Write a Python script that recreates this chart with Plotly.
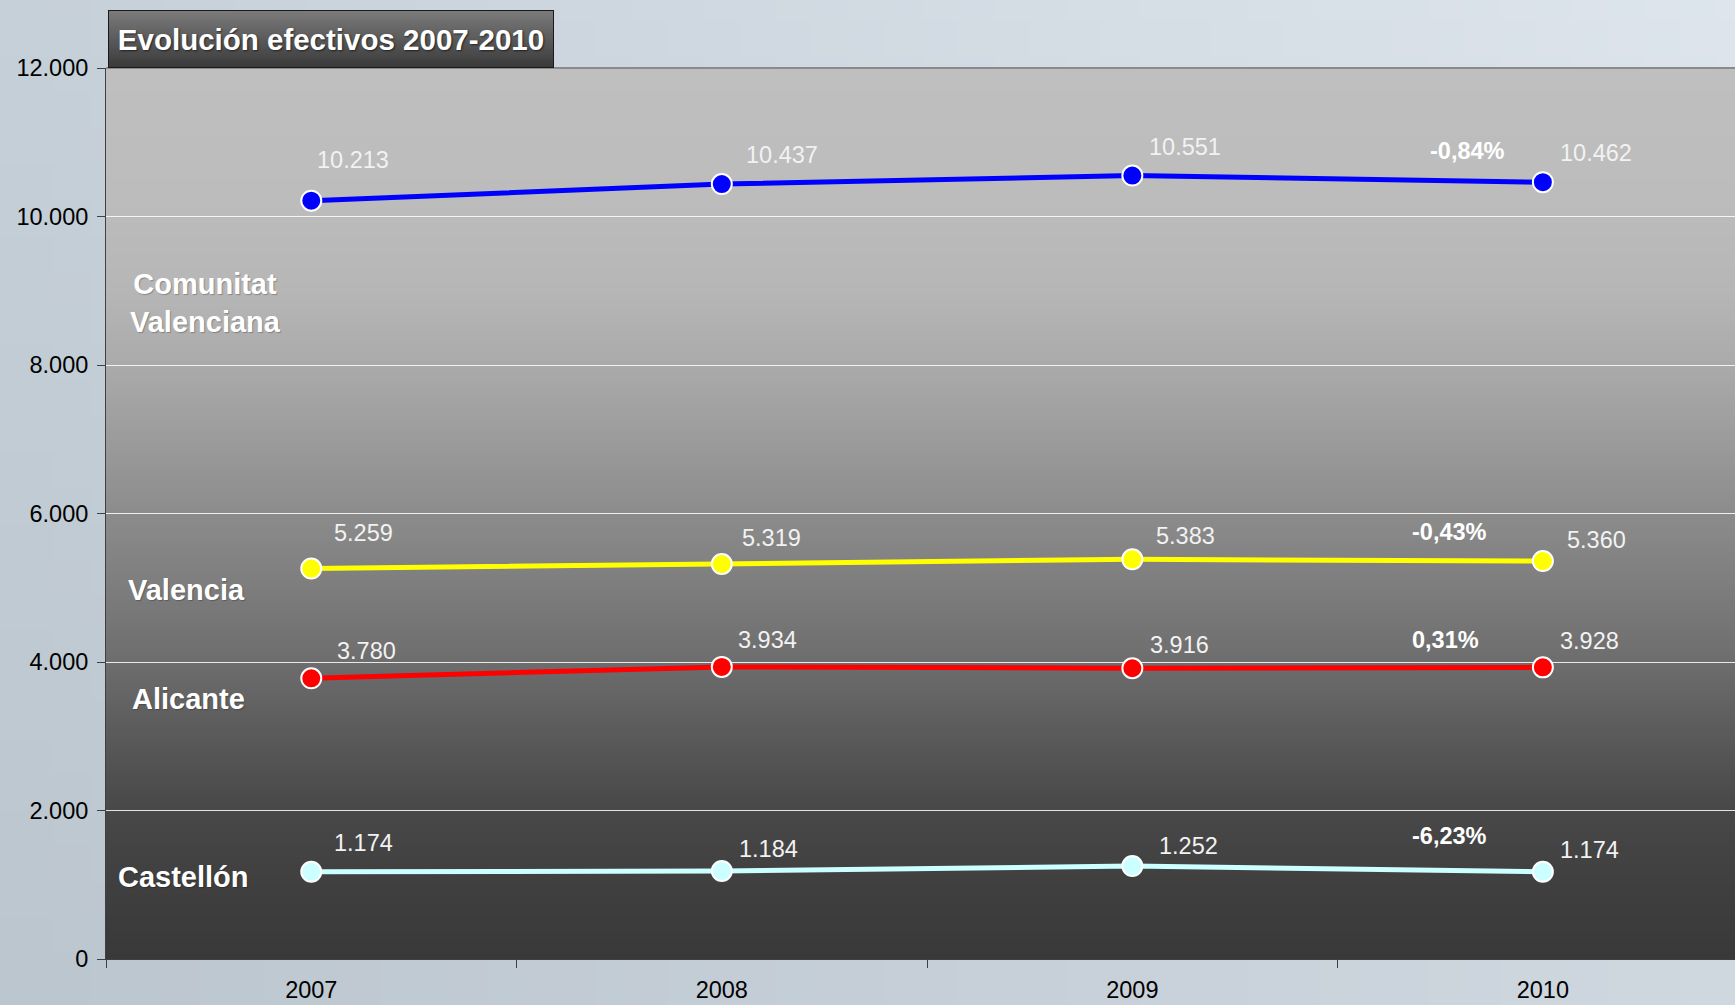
import base64
import struct
import zlib

import plotly.graph_objects as go

# ---------------- data ----------------
years = ["2007", "2008", "2009", "2010"]
series_names = ["Comunitat<br>Valenciana", "Valencia", "Alicante", "Castellón"]
comunitat = [10213, 10437, 10551, 10462]
valencia = [5259, 5319, 5383, 5360]
alicante = [3780, 3934, 3916, 3928]
castellon = [1174, 1184, 1252, 1174]
series_values = [comunitat, valencia, alicante, castellon]
series_colors = ["#0000ff", "#ffff00", "#ff0000", "#ccffff"]
title_text = "Evolución efectivos 2007-2010"
y_tick_values = [0, 2000, 4000, 6000, 8000, 10000, 12000]

# ---------------- geometry (pixels) ----------------
W, H = 1735, 1005
ML, MR, MT, MB = 106, 0, 68, 46
PW = W - ML - MR
PH = H - MT - MB
FONT = "Arial, Liberation Sans, sans-serif"

# per-label offsets (layout only): value labels (left edge dx, centre dy), px
value_label_offsets = [
    [(3, -37), (20, -26), (13, -26), (14, -26)],
    [(19, -32), (16, -24), (20, -21), (20, -19)],
    [(21, -25), (13, -24), (14, -21), (14, -24)],
    [(19, -26), (14, -20), (22, -18), (14, -20)],
]
pct_label_offsets = [(-104, -28), (-120, -26), (-120, -25), (-120, -32)]
S = 1.1065


def png_data_uri(rows):
    h = len(rows)
    w = len(rows[0])
    raw = b"".join(b"\x00" + bytes([c for px in row for c in px]) for row in rows)

    def chunk(t, d):
        return (struct.pack(">I", len(d)) + t + d
                + struct.pack(">I", zlib.crc32(t + d) & 0xFFFFFFFF))

    png = (b"\x89PNG\r\n\x1a\n"
           + chunk(b"IHDR", struct.pack(">IIBBBBB", w, h, 8, 2, 0, 0, 0))
           + chunk(b"IDAT", zlib.compress(raw, 9))
           + chunk(b"IEND", b""))
    return "data:image/png;base64," + base64.b64encode(png).decode()


def interp(stops, f):
    for (f0, c0), (f1, c1) in zip(stops[:-1], stops[1:]):
        if f0 <= f <= f1:
            t = (f - f0) / (f1 - f0) if f1 > f0 else 0
            return tuple(int(round(a + (b - a) * t)) for a, b in zip(c0, c1))
    return stops[-1][1]


# plot-area vertical gradient
plot_stops = [(0.0, (191, 191, 191)), (0.15, (188, 188, 188)), (0.25, (182, 182, 182)),
              (0.33, (171, 171, 171)), (0.42, (155, 155, 155)), (0.5, (140, 140, 140)),
              (0.58, (126, 126, 126)), (0.67, (109, 109, 109)), (0.76, (88, 88, 88)),
              (0.83, (73, 73, 73)), (0.9, (65, 65, 65)), (1.0, (57, 57, 57))]
plot_rows = [[interp(plot_stops, i / 255)] * 2 for i in range(256)]
plot_img = png_data_uri(plot_rows)

# title box gradient
title_stops = [(0.0, (124, 124, 124)), (1.0, (58, 58, 58))]
title_rows = [[interp(title_stops, i / 63)] * 2 for i in range(64)]
title_img = png_data_uri(title_rows)

# page background (soft blue-grey)
TL, TR = (198, 208, 217), (222, 229, 236)
BL, BR = (188, 198, 207), (207, 215, 223)
bg_rows = []
GW, GH = 48, 28
for j in range(GH):
    v = j / (GH - 1)
    row = []
    for i in range(GW):
        u = i / (GW - 1)
        top = [a + (b - a) * u for a, b in zip(TL, TR)]
        bot = [a + (b - a) * u for a, b in zip(BL, BR)]
        c = [t + (b - t) * v for t, b in zip(top, bot)]
        row.append(tuple(int(round(x)) for x in c))
    bg_rows.append(row)
bg_img = png_data_uri(bg_rows)

# ---------------- figure ----------------
fig = go.Figure()
for vals, col in zip(series_values, series_colors):
    fig.add_trace(go.Scatter(
        x=years, y=vals, mode="lines+markers",
        line=dict(color=col, width=5),
        marker=dict(size=20, color=col, line=dict(color="white", width=2)),
        showlegend=False, hoverinfo="x+y",
    ))

annotations = []
for s, vals in enumerate(series_values):
    # value labels (category axis -> serial index positions)
    for idx, v in enumerate(vals):
        dx, dy = value_label_offsets[s][idx]
        annotations.append(dict(
            x=idx, y=v, xref="x", yref="y", text=f"{v:,}".replace(",", "."),
            showarrow=False, xanchor="left", yanchor="middle",
            xshift=dx * S, yshift=-dy * S,
            font=dict(family=FONT, size=23.5, color="#f2f2f2"),
        ))
    # percentage change 2009 -> 2010
    pct = (vals[-1] - vals[-2]) / vals[-2] * 100
    dx, dy = pct_label_offsets[s]
    annotations.append(dict(
        x=len(vals) - 1, y=vals[-1], xref="x", yref="y",
        text="<b>" + f"{pct:.2f}".replace(".", ",") + "%</b>",
        showarrow=False, xanchor="left", yanchor="middle",
        xshift=dx * S, yshift=-dy * S,
        font=dict(family=FONT, size=23.5, color="white"),
    ))

# series name labels (pixel centers converted to paper coords)
name_pos = [(205, 303), (186, 590), (188, 699), (183, 877)]
for name, (px, py) in zip(series_names, name_pos):
    annotations.append(dict(
        x=(px - ML) / PW, y=(H - MB - py) / PH, xref="paper", yref="paper",
        text=f"<b>{name}</b>", showarrow=False, xanchor="center", yanchor="middle",
        font=dict(family=FONT, size=29, color="white",
                  shadow="1px 1px 1px rgba(0,0,0,0.25)"),
    ))

# title box
annotations.append(dict(
    x=2 / PW, y=1, xref="paper", yref="paper", xanchor="left", yanchor="bottom",
    text=f"<b>{title_text}</b>", showarrow=False, width=444, height=56,
    borderwidth=1, bordercolor="#1a1a1a", borderpad=0, bgcolor="rgba(0,0,0,0)",
    font=dict(family=FONT, size=29.5, color="white",
              shadow="1px 1px 2px rgba(0,0,0,0.6)"),
))

images = [
    dict(source=bg_img, xref="paper", yref="paper", x=-ML / PW, y=1 + MT / PH,
         sizex=W / PW, sizey=H / PH, sizing="stretch", xanchor="left", yanchor="top",
         layer="below"),
    dict(source=plot_img, xref="paper", yref="paper", x=0, y=1, sizex=1, sizey=1,
         sizing="stretch", xanchor="left", yanchor="top", layer="below"),
    dict(source=title_img, xref="paper", yref="paper", x=2 / PW, y=1 + 58 / PH,
         sizex=446 / PW, sizey=58 / PH, sizing="stretch", xanchor="left",
         yanchor="top", layer="below"),
]

fig.update_layout(
    width=W, height=H,
    margin=dict(l=ML, r=MR, t=MT, b=MB, autoexpand=False),
    paper_bgcolor="#cdd5dd", plot_bgcolor="rgba(0,0,0,0)",
    separators=",.",
    annotations=annotations,
    images=images,
    shapes=[dict(type="line", xref="paper", yref="paper", x0=0, x1=1, y0=1, y1=1,
                 line=dict(color="#8a8a8a", width=2))],
    font=dict(family=FONT, color="black"),
)
fig.update_xaxes(
    type="category", range=[-0.5, 3.468], tickson="boundaries",
    ticks="outside", ticklen=8, tickcolor="#404040", tickwidth=1,
    showline=True, linecolor="#404040", linewidth=1, showgrid=False,
    tickfont=dict(family=FONT, size=23.5, color="black"),
    ticklabelstandoff=10, automargin=False, zeroline=False,
)
fig.update_yaxes(
    range=[0, 12000], tickvals=y_tick_values, tickformat=",",
    ticks="outside", ticklen=8, tickcolor="#404040", tickwidth=1,
    showline=True, linecolor="#404040", linewidth=1,
    showgrid=True, gridcolor="rgba(255,255,255,0.85)", gridwidth=1,
    tickfont=dict(family=FONT, size=23.5, color="black"),
    ticklabelstandoff=4, automargin=False, zeroline=False,
)

fig.write_html(
    "out.html",
    config={"displayModeBar": False},
    post_script="document.body.style.margin='0';document.body.style.overflow='hidden';",
)
